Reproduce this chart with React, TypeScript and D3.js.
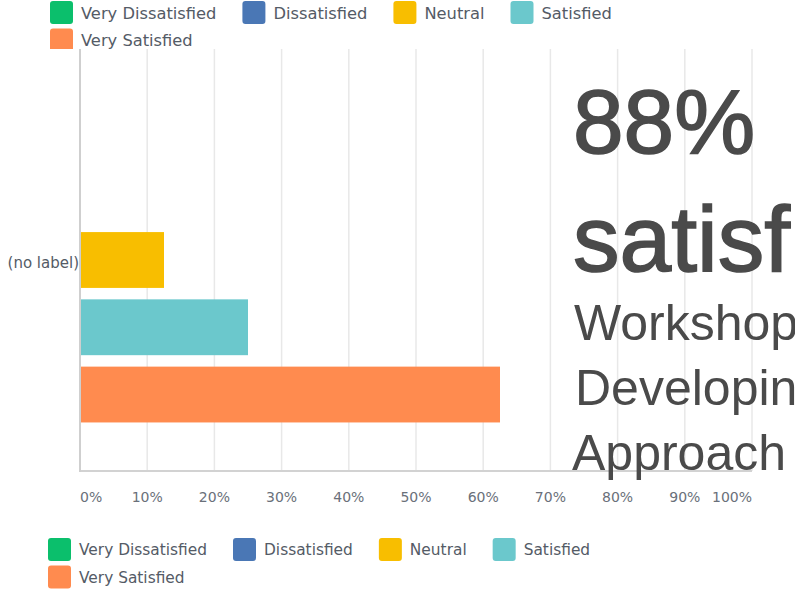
import React, { useRef, useEffect } from 'react';
import * as d3 from 'd3';

const categories = ['(no label)'];
const seriesNames = ['Very Dissatisfied', 'Dissatisfied', 'Neutral', 'Satisfied', 'Very Satisfied'];
const seriesColors = ['#0bbf6c', '#4a77b5', '#f8be00', '#6bc8cc', '#ff8b4f'];
// share of responses per series, for the single category
const seriesValues = [0, 0, 0.125, 0.25, 0.625];
const tickValues = [0, 0.1, 0.2, 0.3, 0.4, 0.5, 0.6, 0.7, 0.8, 0.9, 1];
const overlayLines = ['88%', 'satisfied', 'Workshop', 'Developing', 'Approach'];

const width = 795;
const height = 592;
const margin = { top: 49, right: 43, bottom: 121, left: 80 };
const textColor = '#545b66';
const font = '"DejaVu Sans", sans-serif';

const drawLegend = (g, fontSize, maxWidth) => {
  let x = 0;
  let row = 0;
  seriesNames.forEach((name, i) => {
    const item = g.append('g');
    item
      .append('rect')
      .attr('width', 23)
      .attr('height', 23)
      .attr('rx', 3)
      .attr('fill', seriesColors[i]);
    const label = item
      .append('text')
      .attr('x', 31)
      .attr('y', 12)
      .attr('dy', '0.35em')
      .attr('fill', textColor)
      .style('font-family', font)
      .style('font-size', `${fontSize}px`)
      .text(name);
    const w = 31 + label.node().getComputedTextLength();
    if (x > 0 && x + w > maxWidth) {
      x = 0;
      row += 1;
    }
    item.attr('transform', `translate(${x}, ${row * 27.5})`);
    x += w + 26;
  });
};

const App = () => {
  const chartRef = useRef(null);

  useEffect(() => {
    const svg = d3.select(chartRef.current);
    svg.selectAll('*').remove();

    const x = d3
      .scaleLinear()
      .domain([0, 1])
      .range([margin.left, width - margin.right]);

    const y0 = d3
      .scaleBand()
      .domain(categories)
      .range([margin.top, height - margin.bottom])
      .padding(0.13);

    const y1 = d3
      .scaleBand()
      .domain(seriesNames)
      .range([0, y0.bandwidth()])
      .paddingInner(0.17);

    // grid
    svg
      .append('g')
      .selectAll('line')
      .data(tickValues.slice(1))
      .enter()
      .append('line')
      .attr('x1', (d) => x(d))
      .attr('x2', (d) => x(d))
      .attr('y1', margin.top)
      .attr('y2', height - margin.bottom)
      .attr('stroke', '#e8e8e8')
      .attr('stroke-width', 1.5);

    // bars
    categories.forEach((cat) => {
      svg
        .append('g')
        .attr('transform', `translate(0, ${y0(cat)})`)
        .selectAll('rect')
        .data(seriesValues)
        .enter()
        .append('rect')
        .attr('x', x(0))
        .attr('y', (d, i) => y1(seriesNames[i]))
        .attr('width', (d) => x(d) - x(0))
        .attr('height', y1.bandwidth())
        .attr('fill', (d, i) => seriesColors[i]);
    });

    // axes lines
    svg
      .append('line')
      .attr('x1', x(0))
      .attr('x2', x(1))
      .attr('y1', height - margin.bottom)
      .attr('y2', height - margin.bottom)
      .attr('stroke', '#d2d2d2')
      .attr('stroke-width', 2);
    svg
      .append('line')
      .attr('x1', x(0))
      .attr('x2', x(0))
      .attr('y1', margin.top)
      .attr('y2', height - margin.bottom + 1)
      .attr('stroke', '#cfcfcf')
      .attr('stroke-width', 2);

    // tick labels
    svg
      .append('g')
      .selectAll('text')
      .data(tickValues)
      .enter()
      .append('text')
      .attr('x', (d) => x(d))
      .attr('y', 497)
      .attr('dy', '0.35em')
      .attr('text-anchor', (d, i) => (i === 0 ? 'start' : i === tickValues.length - 1 ? 'end' : 'middle'))
      .attr('fill', '#6a707a')
      .style('font-family', font)
      .style('font-size', '14px')
      .text((d) => d3.format('.0%')(d));

    // category label
    svg
      .append('g')
      .selectAll('text')
      .data(categories)
      .enter()
      .append('text')
      .attr('x', x(0) - 1)
      .attr('y', (d) => y0(d) + y0.bandwidth() / 2 + 3)
      .attr('dy', '0.35em')
      .attr('text-anchor', 'end')
      .attr('fill', textColor)
      .style('font-family', font)
      .style('font-size', '15px')
      .text((d) => d);

    // top legend, cut off by the plot edge
    svg
      .append('clipPath')
      .attr('id', 'top-clip')
      .append('rect')
      .attr('width', width)
      .attr('height', margin.top);
    const topLegend = svg
      .append('g')
      .attr('clip-path', 'url(#top-clip)')
      .append('g')
      .attr('transform', 'translate(50, 1)');
    drawLegend(topLegend, 16.3, 650);

    // bottom legend
    const bottomLegend = svg.append('g').attr('transform', 'translate(48, 538)');
    drawLegend(bottomLegend, 15.4, 620);

    // overlay headline text
    const overlay = svg
      .append('g')
      .attr('fill', '#4a4a4a')
      .style('font-family', '"Liberation Sans", Arial, sans-serif');
    overlay
      .append('text')
      .attr('x', 573)
      .attr('y', 153)
      .attr('stroke', '#4a4a4a')
      .attr('stroke-width', 1.6)
      .style('font-size', '91px')
      .text(overlayLines[0]);
    overlay
      .append('text')
      .attr('x', 573)
      .attr('y', 271)
      .attr('stroke', '#4a4a4a')
      .attr('stroke-width', 1.6)
      .style('font-size', '93px')
      .text(overlayLines[1]);
    overlay.append('text').attr('x', 574).attr('y', 340).style('font-size', '50px').text(overlayLines[2]);
    overlay.append('text').attr('x', 575).attr('y', 405).style('font-size', '50px').text(overlayLines[3]);
    overlay.append('text').attr('x', 572).attr('y', 470).style('font-size', '50px').text(overlayLines[4]);
  }, []);

  return (
    <svg
      ref={chartRef}
      width={width}
      height={height}
      style={{ position: 'absolute', left: 0, top: 0, background: '#fff' }}
    ></svg>
  );
};

export default App;
